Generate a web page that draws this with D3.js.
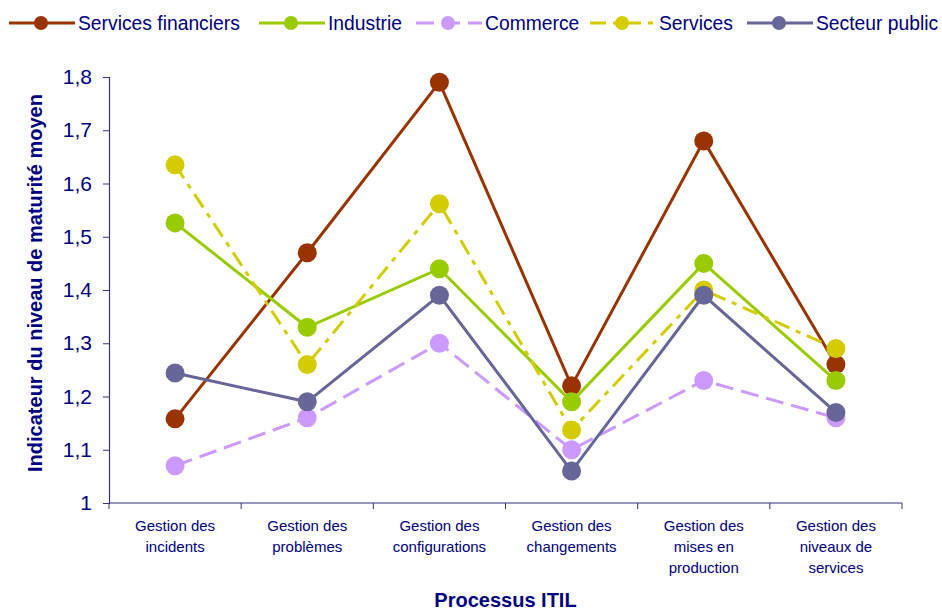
<!DOCTYPE html>
<html>
<head>
<meta charset="utf-8">
<script src="https://cdn.jsdelivr.net/npm/d3@7"></script>
<style>
  body { margin: 0; background: #fff; }
  text { font-family: "Liberation Sans", Arial, sans-serif; fill: #000080; }
</style>
</head>
<body>
<svg id="chart" width="942" height="610"></svg>
<script>
// categories (x axis) and the five series
var categories = [
    ["Gestion des", "incidents"],
    ["Gestion des", "problèmes"],
    ["Gestion des", "configurations"],
    ["Gestion des", "changements"],
    ["Gestion des", "mises en", "production"],
    ["Gestion des", "niveaux de", "services"]
];
var seriesNames = ["Services financiers", "Industrie", "Commerce", "Services", "Secteur public"];
var financiers = [1.158, 1.47, 1.79, 1.22, 1.68, 1.26];
var industrie  = [1.526, 1.33, 1.44, 1.19, 1.45, 1.23];
var commerce   = [1.07, 1.16, 1.30, 1.10, 1.23, 1.16];
var services   = [1.635, 1.26, 1.562, 1.137, 1.40, 1.29];
var secteurPublic = [1.244, 1.19, 1.39, 1.06, 1.39, 1.17];
var yTicks = [1, 1.1, 1.2, 1.3, 1.4, 1.5, 1.6, 1.7, 1.8];

var seriesColors = ["#993300", "#99cc00", "#cc99ff", "#d4cc00", "#666699"];
var seriesDash = [null, null, "18,8", "16,7,5,7", null];

var svg = d3.select("#chart");
var margin = {left: 109, right: 40, top: 77, bottom: 107};
var W = 942, H = 610;

var x = d3.scaleBand()
    .domain(d3.range(categories.length))
    .range([margin.left, W - margin.right]);
var y = d3.scaleLinear()
    .domain([1, 1.8])
    .range([H - margin.bottom, margin.top]);

var fmt = function(v) { return String(+v.toFixed(1)).replace(".", ","); };

// y axis
var yAxis = svg.append("g")
    .attr("transform", "translate(" + margin.left + ",0)")
    .call(d3.axisLeft(y).tickValues(yTicks).tickSize(6).tickFormat(fmt));
yAxis.select(".domain").attr("stroke", "#333380").attr("stroke-width", 1.2);
yAxis.selectAll(".tick line").attr("stroke", "#333380");
yAxis.selectAll(".tick text")
    .attr("x", -17)
    .style("font-size", "21px")
    .style("font-family", "Liberation Sans, Arial, sans-serif")
    .attr("fill", "#000080");

// x axis line with ticks at category boundaries
var xAxis = svg.append("g")
    .attr("transform", "translate(0," + y(1) + ")");
xAxis.append("line")
    .attr("x1", x.range()[0]).attr("x2", x.range()[1])
    .attr("stroke", "#333380").attr("stroke-width", 1.2);
xAxis.selectAll(".bnd")
    .data(d3.range(categories.length + 1))
    .enter().append("line")
    .attr("class", "bnd")
    .attr("x1", function(i) { return x.range()[0] + i * x.bandwidth(); })
    .attr("x2", function(i) { return x.range()[0] + i * x.bandwidth(); })
    .attr("y1", 0).attr("y2", 6)
    .attr("stroke", "#333380");

var catLabels = xAxis.selectAll(".cat")
    .data(categories)
    .enter().append("text")
    .attr("class", "cat")
    .attr("text-anchor", "middle")
    .attr("x", function(d, i) { return x(i) + x.bandwidth() / 2; })
    .attr("y", 28)
    .style("font-size", "15px");
catLabels.selectAll("tspan")
    .data(function(d) { return d; })
    .enter().append("tspan")
    .attr("x", function() { return d3.select(this.parentNode).attr("x"); })
    .attr("dy", function(d, j) { return j === 0 ? 0 : 21; })
    .text(function(d) { return d; });

// axis titles
svg.append("text")
    .attr("x", (margin.left + W - margin.right) / 2)
    .attr("y", 607)
    .attr("text-anchor", "middle")
    .style("font-size", "20px").style("font-weight", "bold")
    .text("Processus ITIL");
svg.append("text")
    .attr("transform", "translate(42," + 283 + ") rotate(-90)")
    .attr("text-anchor", "middle")
    .style("font-size", "20px").style("font-weight", "bold")
    .text("Indicateur du niveau de maturité moyen");

// series
var allSeries = [financiers, industrie, commerce, services, secteurPublic];
var line = d3.line()
    .x(function(d, i) { return x(i) + x.bandwidth() / 2; })
    .y(function(d) { return y(d); });

allSeries.forEach(function(vals, s) {
    var g = svg.append("g");
    g.append("path")
        .datum(vals)
        .attr("d", line)
        .attr("fill", "none")
        .attr("stroke", seriesColors[s])
        .attr("stroke-width", 3)
        .attr("stroke-dasharray", seriesDash[s]);
    g.selectAll("circle")
        .data(vals)
        .enter().append("circle")
        .attr("cx", function(d, i) { return x(i) + x.bandwidth() / 2; })
        .attr("cy", function(d) { return y(d); })
        .attr("r", 9.5)
        .attr("fill", seriesColors[s]);
});

// legend
var legendX = [9, 259, 416, 590, 747];
var legend = svg.selectAll(".leg")
    .data(seriesNames)
    .enter().append("g")
    .attr("class", "leg")
    .attr("transform", function(d, i) { return "translate(" + legendX[i] + ",23)"; });
legend.append("line")
    .attr("x1", 0).attr("x2", 66).attr("y1", 0).attr("y2", 0)
    .attr("stroke", function(d, i) { return seriesColors[i]; })
    .attr("stroke-width", 3)
    .attr("stroke-dasharray", function(d, i) { return seriesDash[i]; });
legend.append("circle")
    .attr("cx", 32).attr("cy", 0).attr("r", 7)
    .attr("fill", function(d, i) { return seriesColors[i]; });
legend.append("text")
    .attr("x", 69).attr("y", 7)
    .style("font-size", "19.3px")
    .text(function(d) { return d; });
</script>
</body>
</html>
